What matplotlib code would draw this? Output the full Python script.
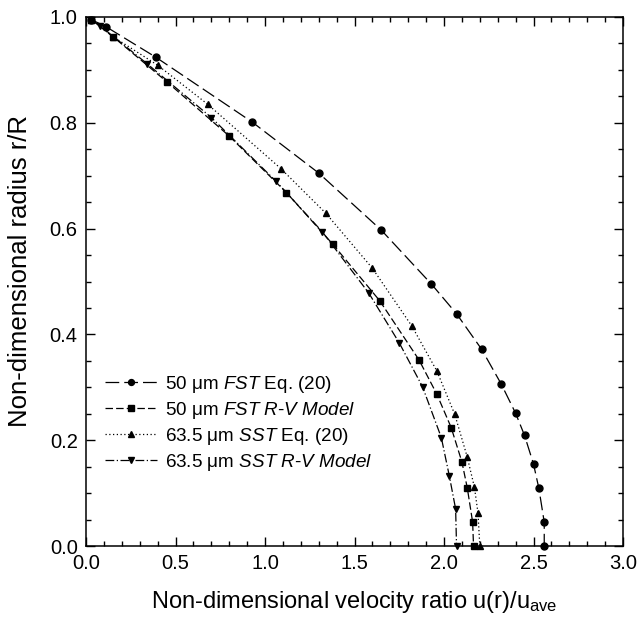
import matplotlib
matplotlib.use("Agg")
import matplotlib.pyplot as plt
from matplotlib.ticker import MultipleLocator

plt.rcParams['font.family'] = ['Liberation Sans', 'DejaVu Sans']
plt.rcParams['mathtext.fontset'] = 'custom'
plt.rcParams['mathtext.rm'] = 'Liberation Sans'
plt.rcParams['mathtext.it'] = 'Liberation Sans:italic'

# Data
fst_eq_u = [0.03, 0.11, 0.39, 0.93, 1.30, 1.65, 1.93, 2.07, 2.21, 2.32, 2.40, 2.45, 2.50, 2.53, 2.56, 2.56]
fst_eq_r = [0.995, 0.982, 0.924, 0.801, 0.705, 0.597, 0.495, 0.439, 0.372, 0.306, 0.251, 0.209, 0.155, 0.109, 0.045, 0.0]

fst_rv_u = [0.03, 0.15, 0.45, 0.80, 1.12, 1.38, 1.64, 1.86, 1.96, 2.04, 2.10, 2.13, 2.16, 2.165]
fst_rv_r = [0.995, 0.963, 0.878, 0.775, 0.668, 0.570, 0.464, 0.352, 0.287, 0.224, 0.159, 0.110, 0.045, 0.0]

sst_eq_u = [0.03, 0.15, 0.40, 0.68, 1.09, 1.34, 1.60, 1.82, 1.96, 2.06, 2.13, 2.17, 2.19, 2.20]
sst_eq_r = [0.995, 0.963, 0.909, 0.835, 0.713, 0.629, 0.525, 0.416, 0.331, 0.249, 0.168, 0.111, 0.062, 0.0]

sst_rv_u = [0.03, 0.08, 0.34, 0.70, 1.06, 1.32, 1.58, 1.75, 1.88, 1.985, 2.03, 2.065, 2.07]
sst_rv_r = [0.995, 0.983, 0.912, 0.810, 0.690, 0.594, 0.478, 0.384, 0.301, 0.205, 0.132, 0.070, 0.0]

labels = [
    r"50 μm $\mathit{FST}$ Eq. (20)",
    r"50 μm $\mathit{FST\ R}$-$\mathit{V\ Model}$",
    r"63.5 μm $\mathit{SST}$ Eq. (20)",
    r"63.5 μm $\mathit{SST\ R}$-$\mathit{V\ Model}$",
]

fig = plt.figure(figsize=(6.39, 6.23), dpi=100)
ax = fig.add_axes([86/639, 1-546/623, 537/639, 529/623])

lw = 0.9
ms = 5
ax.plot(fst_eq_u, fst_eq_r, color='black', lw=lw, marker='o', ms=ms,
        dashes=(11, 4), label=labels[0], clip_on=False)
ax.plot(fst_rv_u, fst_rv_r, color='black', lw=lw, marker='s', ms=ms,
        dashes=(6, 2.5), label=labels[1], clip_on=False)
ax.plot(sst_eq_u, sst_eq_r, color='black', lw=lw, marker='^', ms=ms,
        dashes=(1, 2), label=labels[2], clip_on=False)
ax.plot(sst_rv_u, sst_rv_r, color='black', lw=lw, marker='v', ms=ms,
        dashes=(7, 2, 1, 2), label=labels[3], clip_on=False)

ax.set_xlim(0, 3.0)
ax.set_ylim(0, 1.0)
ax.xaxis.set_major_locator(MultipleLocator(0.5))
ax.xaxis.set_minor_locator(MultipleLocator(0.1))
ax.yaxis.set_major_locator(MultipleLocator(0.2))
ax.yaxis.set_minor_locator(MultipleLocator(0.05))
ax.tick_params(which='both', direction='in', top=True, right=True, width=1.0)
ax.tick_params(which='major', length=6.5, labelsize=14.5)
ax.tick_params(axis='x', which='major', pad=6)
ax.tick_params(axis='y', which='major', pad=6)
ax.tick_params(which='minor', length=3.5)
for s in ax.spines.values():
    s.set_linewidth(1.1)

ax.set_xlabel(r"Non-dimensional velocity ratio u(r)/u$_{\mathrm{ave}}$", fontsize=17)
ax.set_ylabel("Non-dimensional radius r/R", fontsize=18.5)
ax.xaxis.set_label_coords(0.5, -0.082)
ax.yaxis.set_label_coords(-0.10, 0.52)

leg = ax.legend(loc='upper left', bbox_to_anchor=(0.035, 0.325), frameon=False,
                fontsize=13.6, handlelength=2.75, handletextpad=0.45,
                labelspacing=0.26, borderpad=0, borderaxespad=0, numpoints=1,
                markerscale=0.85)

fig.savefig("out.png", dpi=100)
